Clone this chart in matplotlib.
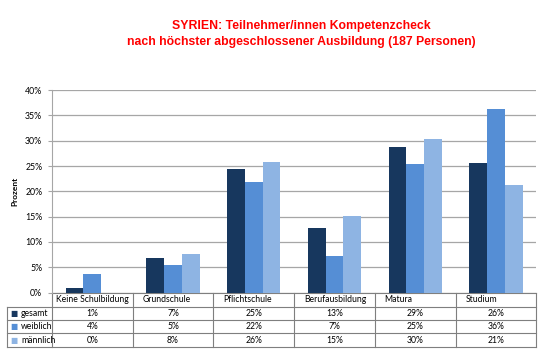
import matplotlib.pyplot as plt
import matplotlib.transforms as mtransforms
import numpy as np

# data
categories = ["Keine Schulbildung", "Grundschule", "Pflichtschule",
              "Berufausbildung", "Matura", "Studium"]
series = ["gesamt", "weiblich", "männlich"]
gesamt = [1.0, 6.9, 24.5, 12.7, 28.8, 25.6]
weiblich = [3.6, 5.4, 21.8, 7.2, 25.4, 36.3]
maennlich = [0.0, 7.6, 25.7, 15.1, 30.3, 21.2]
table_gesamt = ["1%", "7%", "25%", "13%", "29%", "26%"]
table_weiblich = ["4%", "5%", "22%", "7%", "25%", "36%"]
table_maennlich = ["0%", "8%", "26%", "15%", "30%", "21%"]
yticks = [0, 5, 10, 15, 20, 25, 30, 35, 40]

colors = ["#17375E", "#558ED5", "#8EB4E3"]
plt.rcParams["font.family"] = ["Lato", "DejaVu Sans"]

fig = plt.figure(figsize=(5.5, 3.59), dpi=100)
ax = fig.add_axes([0.0945, 0.185, 0.8805, 0.564])

x = np.arange(len(categories))
w = 0.22
for i, (vals, c) in enumerate(zip([gesamt, weiblich, maennlich], colors)):
    ax.bar(x + (i - 1) * w, vals, width=w, color=c, zorder=3)

ax.set_xlim(-0.5, len(categories) - 0.5)
ax.set_ylim(0, 40)
ax.set_yticks(yticks)
ax.set_yticklabels([f"{t}%" for t in yticks], fontsize=6.3)
ax.set_xticks([])
ax.grid(axis="y", color="#A6A6A6", linewidth=0.9, zorder=0)
for s in ["top", "right", "bottom"]:
    ax.spines[s].set_visible(False)
ax.spines["left"].set_color("#A6A6A6")
ax.tick_params(axis="y", length=3, color="#A6A6A6", pad=4)
ax.set_ylabel("Prozent", fontsize=6, fontweight="bold", labelpad=5)

# data table below the chart
trans = mtransforms.blended_transform_factory(ax.transData, ax.transAxes)
line_kw = dict(color="#7F7F7F", linewidth=0.8, clip_on=False)
row_lines = [0.0, -0.069, -0.135, -0.2, -0.269]
left_ax = -0.093
for j, yl in enumerate(row_lines):
    xs = left_ax if j > 0 else 0.0
    ax.plot([xs, 1.0], [yl, yl], transform=ax.transAxes, **line_kw)
for b in np.arange(len(categories) + 1) - 0.5:
    ax.plot([b, b], [0, row_lines[-1]], transform=trans, **line_kw)
ax.plot([left_ax, left_ax], [row_lines[1], row_lines[-1]],
        transform=ax.transAxes, **line_kw)

row_centers = [-0.102, -0.168, -0.235]
for i, cat in enumerate(categories):
    if i == 0:
        ax.text(i, -0.036, cat, transform=trans, ha="center", va="center",
                fontsize=6.2)
    else:
        ax.text(i - 0.38, -0.036, cat, transform=trans, ha="left",
                va="center", fontsize=6.2)
for r, (name, vals, c) in enumerate(zip(series,
                                        [table_gesamt, table_weiblich, table_maennlich],
                                        colors)):
    yc = row_centers[r]
    ax.text(left_ax + 0.007, yc, "\u25A0", transform=ax.transAxes, ha="left",
            va="center", fontsize=5.5, color=c, family="DejaVu Sans")
    ax.text(left_ax + 0.029, yc, name, transform=ax.transAxes, ha="left",
            va="center", fontsize=6.2)
    for i, v in enumerate(vals):
        ax.text(i, yc, v, transform=trans, ha="center", va="center", fontsize=6.2)

fig.text(0.548, 0.928, "SYRIEN: Teilnehmer/innen Kompetenzcheck", ha="center",
         va="center", fontsize=8.8, fontweight="bold", color="#FF0000",
         family="Liberation Sans")
fig.text(0.548, 0.883, "nach höchster abgeschlossener Ausbildung (187 Personen)",
         ha="center", va="center", fontsize=8.8, fontweight="bold",
         color="#FF0000", family="Liberation Sans")

fig.savefig("out.png", dpi=100, facecolor="white")
